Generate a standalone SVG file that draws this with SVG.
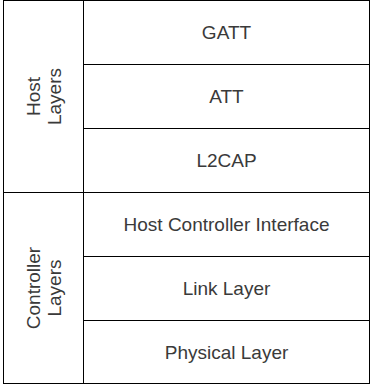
<svg xmlns="http://www.w3.org/2000/svg" width="372" height="385" viewBox="0 0 372 385">
<style>
.box{fill:#ffffff;stroke:#000000;stroke-width:1}
.t{font-family:"Liberation Sans",Arial,Helvetica,sans-serif;font-size:19px;fill:#3a3a3a;text-anchor:middle}
</style>
<rect width="372" height="385" fill="#ffffff"/>
<g id="host-layers">
<rect class="box" x="3.5" y="0.5" width="80" height="192"/>
<text class="t" transform="translate(43.5,96.5) rotate(-90)"><tspan x="0" y="-4">Host</tspan><tspan x="0" y="17">Layers</tspan></text>
</g>
<g id="controller-layers">
<rect class="box" x="3.5" y="192.5" width="80" height="191"/>
<text class="t" transform="translate(43.5,288) rotate(-90)"><tspan x="0" y="-4">Controller</tspan><tspan x="0" y="17">Layers</tspan></text>
</g>
<g id="gatt">
<rect class="box" x="83.5" y="0.5" width="286" height="64"/>
<text class="t" x="226.5" y="39">GATT</text>
</g>
<g id="att">
<rect class="box" x="83.5" y="64.5" width="286" height="64"/>
<text class="t" x="226.5" y="103">ATT</text>
</g>
<g id="l2cap">
<rect class="box" x="83.5" y="128.5" width="286" height="64"/>
<text class="t" x="226.5" y="167">L2CAP</text>
</g>
<g id="hci">
<rect class="box" x="83.5" y="192.5" width="286" height="64"/>
<text class="t" x="226.5" y="231">Host Controller Interface</text>
</g>
<g id="link-layer">
<rect class="box" x="83.5" y="256.5" width="286" height="64"/>
<text class="t" x="226.5" y="295">Link Layer</text>
</g>
<g id="physical-layer">
<rect class="box" x="83.5" y="320.5" width="286" height="63"/>
<text class="t" x="226.5" y="358.5">Physical Layer</text>
</g>
<g id="connectors"></g>
</svg>
